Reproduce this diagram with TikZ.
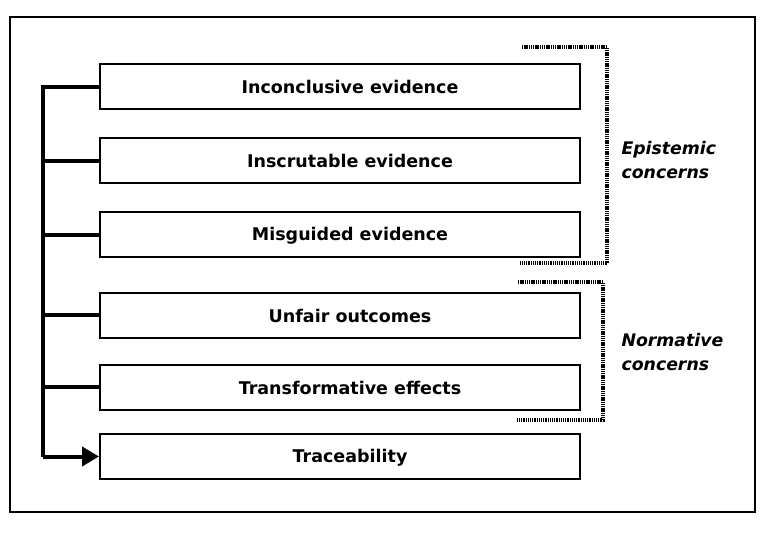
\documentclass[tikz,border=0pt]{standalone}
\usepackage{fontspec}
\setmainfont{DejaVu Sans}
\usetikzlibrary{positioning}
\usetikzlibrary{arrows.meta}
\tikzset{concern/.style={draw, line width=2pt, minimum width=480pt, minimum height=45pt,
inner sep=0pt, text height=15pt, font=\bfseries\fontsize{17.5}{20}\selectfont,
execute at begin node=\hspace*{20pt}},
spine/.style={line width=4pt},
bracket/.style={line width=3.2pt, dash pattern=on 1.3pt off 0.9pt},
group/.style={align=left, anchor=west, font=\bfseries\itshape\fontsize{17.3}{24}\selectfont}}

\begin{document}
\begin{tikzpicture}[x=1pt, y=-1pt]
	\useasboundingbox (0,0) rectangle (763,533);
	\draw[line width=2.5pt] (10,17) rectangle (755,512);

	\node[concern] (incon) at (340,86.5) {Inconclusive evidence};
	\node[concern] (inscr) at (340,160.5) {Inscrutable evidence};
	\node[concern] (misg) at (340,234.5) {Misguided evidence};
	\node[concern] (unfair) at (340,315) {Unfair outcomes};
	\node[concern] (transf) at (340,387) {Transformative effects};
	\node[concern] (trace) at (340,456.5) {Traceability};

	% spine on the left
	\coordinate (sp) at (43,0);
	\draw[spine] (incon.west) -- (incon.west -| sp) -- (trace.west -| sp);
	\draw[spine, -{Triangle[length=17pt, width=19pt]}] (trace.west -| sp) -- (trace.west);
	\foreach \b in {inscr, misg, unfair, transf}
		\draw[spine] (\b.west) -- (\b.west -| sp);

	% dotted brackets
	\coordinate (epi-top) at (522,47);
	\coordinate (epi-bot) at (520,263);
	\draw[bracket] (epi-top) -- (607,47) -- (607,263) -- (epi-bot);
	\coordinate (nor-top) at (518,282);
	\coordinate (nor-bot) at (517,420);
	\draw[bracket] (nor-top) -- (603,282) -- (603,420) -- (nor-bot);

	\node[group] (epi) at (618,160) {Epistemic\\concerns};
	\node[group] (nor) at (618,352) {Normative\\concerns};
\end{tikzpicture}
\end{document}
